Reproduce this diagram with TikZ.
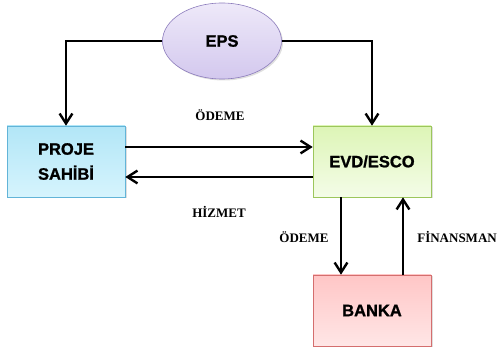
\documentclass[tikz,border=0pt]{standalone}
\usepackage{fontspec}
\setmainfont{Liberation Serif}
\newfontfamily\boxfont[FakeBold=1.2]{Liberation Sans}
\usepackage{xcolor}
\definecolor{cEpsTop}{HTML}{EEE9F9}
\definecolor{cEpsBot}{HTML}{D3C8EE}
\definecolor{cEpsLine}{HTML}{8C7CBC}
\definecolor{cProTop}{HTML}{B2E6F7}
\definecolor{cProBot}{HTML}{D6F4FD}
\definecolor{cProLine}{HTML}{62B4D8}
\definecolor{cEvdTop}{HTML}{DDF5B6}
\definecolor{cEvdBot}{HTML}{F4FCE8}
\definecolor{cEvdLine}{HTML}{9CC65C}
\definecolor{cBanTop}{HTML}{FFC6C6}
\definecolor{cBanBot}{HTML}{FFE6E6}
\definecolor{cBanLine}{HTML}{D46E6E}
\usetikzlibrary{arrows.meta,shapes.geometric,shadows}
\tikzset{
  node-box/.style={draw,semithick,minimum width=118pt,minimum height=71pt,
    align=center,font=\boxfont\bfseries\fontsize{16.5}{25}\selectfont,
    drop shadow={opacity=0.25,shadow xshift=1.5pt,shadow yshift=-1.5pt}},
  node-eps/.style={node-box,ellipse,minimum width=119pt,minimum height=76pt,
    draw=cEpsLine,top color=cEpsTop,bottom color=cEpsBot},
  node-proje/.style={draw=cProLine,top color=cProTop,bottom color=cProBot},
  node-evd/.style={draw=cEvdLine,top color=cEvdTop,bottom color=cEvdBot},
  node-banka/.style={draw=cBanLine,top color=cBanTop,bottom color=cBanBot},
  arrow/.style={-{Straight Barb[length=3.5mm,width=4.5mm]},line width=2.4pt,draw=black},
  flow-label/.style={font=\bfseries\fontsize{13}{15}\selectfont},
}
\begin{document}
\begin{tikzpicture}[x=1pt,y=-1pt]
  \useasboundingbox (0,0) rectangle (499,352);
  % actors
  \node[node-eps] (eps) at (222,41) {EPS};
  \node[node-box,node-proje] (proje) at (66,161.5) {PROJE\\SAHİBİ};
  \node[node-box,node-evd] (evd) at (372,161.5) {EVD/ESCO};
  \node[node-box,node-banka] (banka) at (372,310.5) {BANKA};
  % flows
  \draw[arrow] (eps.west) -| (proje.north);
  \draw[arrow] (eps.east) -| (evd.north);
  \draw[arrow] ([yshift=14.5pt]proje.east) -- ([yshift=14.5pt]evd.west);
  \draw[arrow] ([yshift=-15.5pt]evd.west) -- ([yshift=-15.5pt]proje.east);
  \draw[arrow] ([xshift=-31pt]evd.south) -- ([xshift=-31pt]banka.north);
  \draw[arrow] ([xshift=31pt]banka.north) -- ([xshift=31pt]evd.south);
  % labels
  \node[flow-label] (l-odeme) at (220,115) {ÖDEME};
  \node[flow-label] (l-hizmet) at (219,212) {HİZMET};
  \node[flow-label] (l-odeme2) at (304,237) {ÖDEME};
  \node[flow-label,anchor=east,inner sep=1pt] (l-fin) at (498,237) {FİNANSMAN};
\end{tikzpicture}
\end{document}
